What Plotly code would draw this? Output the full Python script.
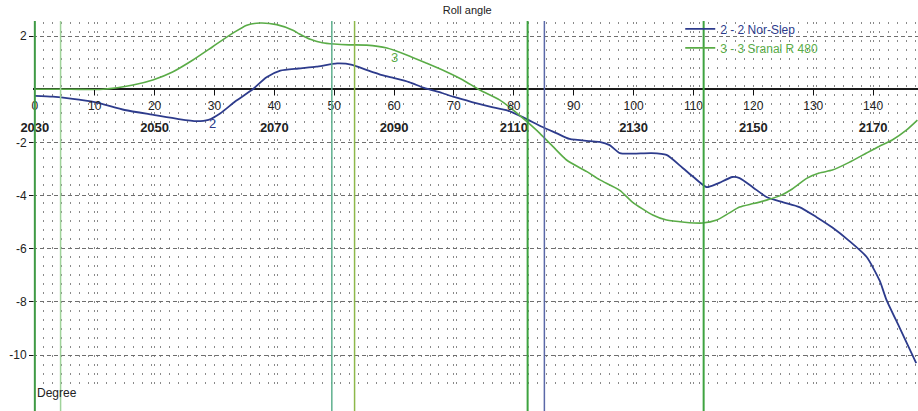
import plotly.graph_objects as go

# ---------------- data ----------------
title_text = "Roll angle"
y_unit = "Degree"

series2_name = "2 - 2 Nor-Slep"
series2_x = [0, 3, 6, 10, 15, 20, 24, 27, 29, 31, 33.5, 36.4, 38.7, 41, 44, 47, 50.5, 53,
             55.5, 58, 60, 62.5, 65, 68, 70, 73, 76, 79, 81.5, 84.8, 87.1, 89.3, 92.7, 94.3,
             96, 97.7, 100, 103, 105.5, 108.2, 110, 112.2, 114, 116.5, 117.7, 120, 122.2, 125,
             127.7, 130.5, 133.2, 136, 138.9, 141.1, 142.2, 144.5, 147.2]
series2_y = [-0.25, -0.28, -0.35, -0.48, -0.78, -0.97, -1.12, -1.2, -1.15, -0.9, -0.45, 0.0,
             0.45, 0.7, 0.78, 0.85, 0.97, 0.92, 0.72, 0.53, 0.42, 0.27, 0.05, -0.14, -0.29,
             -0.48, -0.65, -0.8, -1.05, -1.42, -1.65, -1.87, -1.95, -1.98, -2.1, -2.4, -2.42,
             -2.4, -2.47, -2.96, -3.3, -3.68, -3.55, -3.3, -3.34, -3.7, -4.05, -4.25, -4.43,
             -4.8, -5.2, -5.7, -6.3, -7.2, -7.9, -9.0, -10.3]

series3_name = "3 - 3 Sranal R 480"
series3_x = [0, 6, 11.4, 16.4, 19.7, 23, 26.4, 29.7, 33, 35.4, 37.6, 40.4, 43.1, 44.2, 46,
             48, 50, 52.5, 55.4, 58.8, 62.1, 65.4, 68.8, 71.5, 74.3, 77.6, 80, 82.1, 84.3, 86.5,
             88.8, 92.2, 94.3, 97.7, 99.8, 103.2, 105.5, 108.5, 111.5, 113.9, 116, 117.7, 120,
             122.2, 124.5, 126.5, 128.9, 131, 133.2, 136, 138.9, 141, 143.2, 145.5, 147.4]
series3_y = [0.0, 0.0, 0.0, 0.16, 0.35, 0.65, 1.1, 1.6, 2.1, 2.41, 2.49, 2.43, 2.22, 2.08,
             1.88, 1.75, 1.7, 1.67, 1.66, 1.55, 1.29, 0.98, 0.65, 0.35, -0.03, -0.4, -0.8, -1.2,
             -1.65, -2.15, -2.66, -3.1, -3.4, -3.8, -4.24, -4.73, -4.92, -5.0, -5.03, -4.92,
             -4.65, -4.43, -4.3, -4.17, -4.0, -3.75, -3.35, -3.15, -3.04, -2.75, -2.4, -2.15,
             -1.91, -1.55, -1.16]

series_label_text = ["2", "3"]
series_label_x = [29.7, 60.1]
series_label_y = [-1.3, 1.2]

marker_lines_x = [0.0, 4.3, 49.6, 53.4, 82.3, 85.1, 111.7]
marker_lines_color = ["#3f9a45", "#9fd39a", "#5fb08e", "#8db84a", "#3da33f", "#5a68a8", "#3fa340"]
marker_lines_width = [2, 1.5, 1.5, 1.5, 2, 1.5, 2]

x_ticks = [0, 10, 20, 30, 40, 50, 60, 70, 80, 90, 100, 110, 120, 130, 140]
x_tick_labels = ["0", "10", "20", "30", "40", "50", "60", "70", "80", "90", "100", "110",
                 "120", "130", "140"]
year_ticks = [0, 20, 40, 60, 80, 100, 120, 140]
year_labels = ["2030", "2050", "2070", "2090", "2110", "2130", "2150", "2170"]
y_ticks = [2, -2, -4, -6, -8, -10]
y_tick_labels = ["2", "-2", "-4", "-6", "-8", "-10"]

# ---------------- style ----------------
BLUE = "#2d3b8c"
GREEN = "#5aac47"
FONT = "Liberation Sans, Arial, sans-serif"
DOT = "#8a8a8a"

fig = go.Figure()

fig.add_trace(go.Scatter(x=series2_x, y=series2_y, mode="lines",
                         line=dict(color=BLUE, width=1.8, shape="spline", smoothing=0.6),
                         name=f"<span style='color:{BLUE}'>{series2_name}</span>"))
fig.add_trace(go.Scatter(x=series3_x, y=series3_y, mode="lines",
                         line=dict(color=GREEN, width=1.6, shape="spline", smoothing=0.6),
                         name=f"<span style='color:{GREEN}'>{series3_name}</span>"))

for xv, c, w in zip(marker_lines_x, marker_lines_color, marker_lines_width):
    fig.add_trace(go.Scatter(x=[xv, xv], y=[2.56, -12.1], mode="lines", line=dict(color=c, width=w),
                             showlegend=False, hoverinfo="skip", xaxis="x3", yaxis="y3"))

# year row, drawn through a second x axis
fig.add_trace(go.Scatter(x=year_ticks, y=[None] * len(year_ticks), xaxis="x2", yaxis="y",
                         showlegend=False, hoverinfo="skip"))

for t, xv, yv, c in zip(series_label_text, series_label_x, series_label_y, [BLUE, GREEN]):
    fig.add_annotation(x=xv, y=yv, text=t, showarrow=False, font=dict(color=c, size=13, family=FONT))

fig.add_annotation(xref="paper", yref="paper", x=0.038, y=0.045, xanchor="left", yanchor="middle",
                   text=y_unit, showarrow=False, font=dict(size=12, color="#222", family=FONT))

XDOM = [0.036, 1.0]
fig.update_layout(
    width=918, height=411,
    margin=dict(l=0, r=0, t=0, b=0, autoexpand=False),
    paper_bgcolor="white", plot_bgcolor="rgba(0,0,0,0)",
    font=dict(family=FONT, color="#222"),
    title=dict(text=title_text, x=0.509, xanchor="center", y=0.975, yanchor="middle",
               font=dict(size=11, color="#222", family=FONT)),
    showlegend=True,
    legend=dict(x=0.741, y=0.965, xanchor="left", yanchor="top", bgcolor="rgba(0,0,0,0)",
                font=dict(size=12, family=FONT), itemwidth=30, tracegroupgap=0),
    xaxis=dict(domain=XDOM, range=[-0.3, 147.5], anchor="free", position=0.7828, automargin=False,
               tickmode="array", tickvals=x_ticks, ticktext=x_tick_labels,
               ticks="outside", ticklen=5, tickwidth=1.3, tickcolor="#111",
               tickfont=dict(size=12, color="#222", family=FONT),
               showline=False, zeroline=False,
               showgrid=True, gridcolor=DOT, gridwidth=1, griddash="2px,7px",
               minor=dict(dtick=1.5, tick0=0, showgrid=True, gridcolor=DOT, gridwidth=1, griddash="2px,7px")),
    xaxis2=dict(overlaying="x", matches="x", anchor="free", position=0.713, side="bottom", automargin=False,
                tickmode="array", tickvals=year_ticks, ticktext=year_labels, ticks="",
                tickfont=dict(size=13, color="#222", family=FONT, weight="bold"),
                showgrid=False, zeroline=False, showline=False),
    yaxis=dict(domain=[0.0511, 0.9465], range=[-11.31, 2.53], anchor="free", position=0.036, automargin=False,
               tickmode="array", tickvals=y_ticks, ticktext=y_tick_labels,
               ticks="outside", ticklen=4, tickwidth=1.3, tickcolor="#111",
               tickfont=dict(size=12, color="#222", family=FONT),
               showline=False, zeroline=True, zerolinecolor="#1a1a1a", zerolinewidth=1.5,
               showgrid=True, gridcolor="#6e6e6e", gridwidth=1, griddash="4px,3px"),
    xaxis3=dict(domain=XDOM, matches="x", anchor="y3", visible=False, automargin=False),
    yaxis3=dict(domain=[0, 1], range=[-12.1, 3.35], anchor="x3", visible=False, automargin=False),
)

fig.write_html("out.html", config={"displayModeBar": False},
               post_script="document.body.style.margin='0';")
